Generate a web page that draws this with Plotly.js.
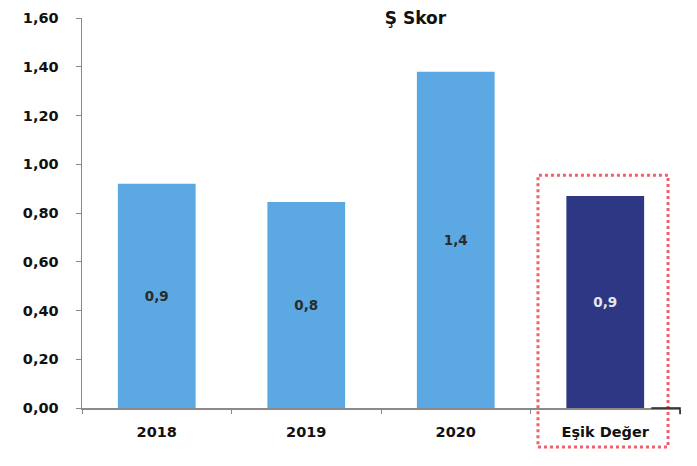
<!DOCTYPE html>
<html>
<head>
<meta charset="utf-8">
<script src="https://cdn.plot.ly/plotly-3.0.1.min.js"></script>
<style>
  html, body { margin: 0; padding: 0; background: #ffffff; }
  #chart { width: 697px; height: 466px; }
</style>
</head>
<body>
<div id="chart"></div>
<script>
// Ş skor by year, compared with the threshold value
const categories = ["2018", "2019", "2020", "Eşik Değer"];
const scores = [0.92, 0.845, 1.38, 0.87];
const barColors = ["#5ba8e2", "#5ba8e2", "#5ba8e2", "#2d3784"];
const labelColors = ["#2b2b2b", "#2b2b2b", "#2b2b2b", "#e6e6ee"];
const yTickValues = [0, 0.2, 0.4, 0.6, 0.8, 1.0, 1.2, 1.4, 1.6];

const font = "DejaVu Sans, Liberation Sans, sans-serif";

const trace = {
  type: "bar",
  x: categories,
  y: scores,
  marker: { color: barColors, line: { width: 0 } },
  texttemplate: "%{y:.1f}",
  textposition: "inside",
  insidetextanchor: "middle",
  textangle: 0,
  textfont: { family: font, size: 13.5, color: labelColors, weight: "bold" },
  hoverinfo: "skip"
};

const layout = {
  width: 697,
  height: 466,
  margin: { l: 82, r: 17, t: 18, b: 58 },
  paper_bgcolor: "#ffffff",
  plot_bgcolor: "#ffffff",
  separators: ", ",
  showlegend: false,
  bargap: 0.48,
  title: {
    text: "<b>Ş Skor</b>",
    font: { family: font, size: 17, color: "#111111" },
    x: 0.596, xanchor: "center",
    y: 0.962, yanchor: "middle", yref: "container"
  },
  xaxis: {
    type: "category",
    showgrid: false,
    zeroline: false,
    showline: true,
    linecolor: "#8a8a8a",
    linewidth: 1.5,
    ticks: "outside",
    tickson: "boundaries",
    ticklen: 4,
    tickcolor: "#8a8a8a",
    ticklabelstandoff: 10,
    tickfont: { family: font, size: 14.5, color: "#111111", weight: "bold" }
  },
  yaxis: {
    range: [0, 1.6],
    tickvals: yTickValues,
    tickformat: ".2f",
    showgrid: false,
    zeroline: false,
    showline: true,
    linecolor: "#8a8a8a",
    linewidth: 1.5,
    ticks: "outside",
    ticklen: 5,
    tickcolor: "#8a8a8a",
    ticklabelstandoff: 14,
    tickfont: { family: font, size: 14.5, color: "#111111", weight: "bold" }
  },
  shapes: [
    // dotted frame around the threshold bar
    {
      type: "rect", xref: "paper", yref: "paper",
      x0: 0.7625, x1: 0.98, y0: -0.1, y1: 0.597,
      line: { color: "#f0606e", width: 3, dash: "dot" },
      fillcolor: "rgba(0,0,0,0)"
    },
    // dark end segment of the category axis
    {
      type: "path", xref: "paper", yref: "paper",
      path: "M 0.952 0 L 1.0 0 L 1.0 -0.016",
      line: { color: "#222222", width: 1.5 }
    }
  ]
};

Plotly.newPlot("chart", [trace], layout, { displayModeBar: false, staticPlot: true });
</script>
</body>
</html>
